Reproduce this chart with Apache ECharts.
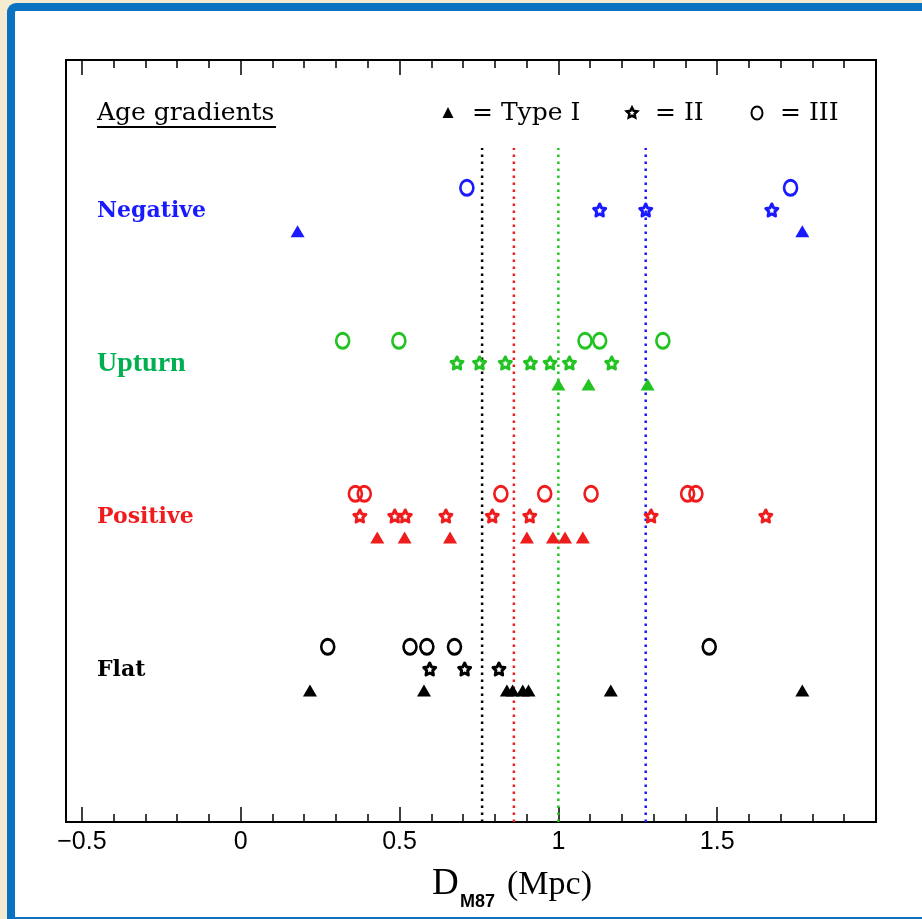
<!DOCTYPE html>
<html>
<head>
<meta charset="utf-8">
<script src="https://cdn.jsdelivr.net/npm/echarts@6/dist/echarts.min.js"></script>
<style>
  html, body { margin: 0; padding: 0; background: #f5ebd0; overflow: hidden; }
  #frame {
    position: absolute; left: 7px; top: 3px; width: 940px; height: 906px;
    background: #fff; border-left: 8px solid #0b72c2; border-top: 8px solid #0b72c2;
    border-bottom: 3px solid #0b72c2; border-top-left-radius: 9px;
  }
  #chart { position: absolute; left: 0; top: 0; width: 922px; height: 919px; }
</style>
</head>
<body>
<div id="frame"></div>
<div id="chart"></div>
<script>
// distance from M87 (Mpc)
// Type I = triangle, Type II = star, Type III = circle
const negTypeI = [0.179, 1.768]
const negTypeII = [1.130, 1.275, 1.672]
const negTypeIII = [0.712, 1.731]

const upTypeI = [1.000, 1.095, 1.281]
const upTypeII = [0.681, 0.752, 0.833, 0.912, 0.974, 1.035, 1.168]
const upTypeIII = [0.321, 0.498, 1.084, 1.130, 1.329]

const posTypeI = [0.430, 0.516, 0.659, 0.901, 0.983, 1.021, 1.077]
const posTypeII = [0.375, 0.485, 0.518, 0.646, 0.792, 0.910, 1.292, 1.653]
const posTypeIII = [0.361, 0.389, 0.819, 0.957, 1.103, 1.407, 1.433]

const flatTypeI = [0.218, 0.577, 0.838, 0.856, 0.888, 0.906, 1.165, 1.768]
const flatTypeII = [0.595, 0.705, 0.813]
const flatTypeIII = [0.274, 0.533, 0.586, 0.673, 1.475]

// dotted reference lines: flat, positive, upturn, negative
const lineValues = [0.76, 0.86, 1.0, 1.275]

const groupNames = ['Flat', 'Positive', 'Upturn', 'Negative']
const groupLevels = [1, 2, 3, 4]
const majorTicks = [-0.5, 0, 0.5, 1, 1.5]

const colors = { Flat: '#000000', Positive: '#ee1c1c', Upturn: '#22c322', Negative: '#1a1aff' }
const labelColors = { Flat: '#000000', Positive: '#ee1c1c', Upturn: '#00b050', Negative: '#1a1aff' }
const lineColors = ['#000000', '#ee1c1c', '#22c322', '#1a1aff']

const minorTicks = []
for (let i = -5; i <= 19; i++) {
    if (i % 5 !== 0) minorTicks.push(i / 10)
}

// 5 point star, outer radius 10, inner 5
const starPts = [[0, -10], [2.94, -4.05], [9.51, -3.09], [4.76, 1.55], [5.88, 8.09], [0, 5], [-5.88, 8.09], [-4.76, 1.55], [-9.51, -3.09], [-2.94, -4.05]]
const starPath = 'path://M' + starPts.map(p => p.join(',')).join(' L') + ' Z'

const groupData = {
    Negative: [negTypeI, negTypeII, negTypeIII],
    Upturn: [upTypeI, upTypeII, upTypeIII],
    Positive: [posTypeI, posTypeII, posTypeIII],
    Flat: [flatTypeI, flatTypeII, flatTypeIII]
}
const typeOffsets = [-0.14, 0, 0.145]

const chart = echarts.init(document.getElementById('chart'))

let series = []
lineValues.forEach((v, i) => {
    series.push({
        type: 'line', xAxisIndex: 0, yAxisIndex: 0, silent: true, symbol: 'none', z: 1,
        data: [[v, 0], [v, 4.405]],
        lineStyle: { color: lineColors[i], width: 2.5, type: [2.5, 4.5] }
    })
})
groupNames.forEach((g, gi) => {
    const c = colors[g]
    const [t1, t2, t3] = groupData[g]
    const lvl = groupLevels[gi]
    series.push({
        name: g + ' I', type: 'scatter', symbol: 'triangle', symbolSize: [14, 12], z: 3,
        data: t1.map(x => [x, lvl + typeOffsets[0]]),
        itemStyle: { color: c, opacity: 1 }
    })
    series.push({
        name: g + ' II', type: 'scatter', symbol: starPath, symbolSize: [12, 12], z: 3,
        data: t2.map(x => [x, lvl + typeOffsets[1]]),
        itemStyle: { color: 'rgba(255,255,255,0)', borderColor: c, borderWidth: 3, borderJoin: 'round', opacity: 1 }
    })
    series.push({
        name: g + ' III', type: 'scatter', symbol: 'circle', symbolSize: [13, 15], z: 3,
        data: t3.map(x => [x, lvl + typeOffsets[2]]),
        itemStyle: { color: 'rgba(255,255,255,0)', borderColor: c, borderWidth: 2.8, opacity: 1 }
    })
})

const gridRect = { left: 66, top: 60, right: 46, bottom: 97 }
const tickAxis = (grid, pos, vals, len, labels) => ({
    type: 'value', gridIndex: grid, position: pos, min: -0.55, max: 2.0,
    axisLine: { show: false }, splitLine: { show: false },
    axisTick: { show: true, inside: true, length: len, customValues: vals, lineStyle: { color: '#000', width: 1.5 } },
    axisLabel: labels ? {
        customValues: vals, fontFamily: 'Liberation Sans', fontSize: 25, color: '#000', margin: 8,
        formatter: v => (v < 0 ? '\u2212' + Math.abs(v) : String(v))
    } : { show: false }
})

const serifFont = 'DejaVu Serif'
let graphics = []
groupNames.forEach((g, gi) => {
    const isUp = g === 'Upturn'
    graphics.push({
        type: 'text', x: 97, y: 822 - groupLevels[gi] * 153 + 1,
        style: {
            text: g, fill: labelColors[g], fontWeight: 'bold', verticalAlign: 'middle',
            fontFamily: isUp ? 'Liberation Serif' : serifFont, fontSize: isUp ? 28 : 22
        }
    })
})
const legendText = (txt, x) => ({
    type: 'text', x: x, y: 113,
    style: { text: txt, fontFamily: serifFont, fontSize: 25, fill: '#000', verticalAlign: 'middle' }
})
graphics.push(
    legendText('Age gradients', 97),
    { type: 'line', shape: { x1: 97, y1: 127, x2: 276, y2: 127 }, style: { stroke: '#000', lineWidth: 2 } },
    { type: 'polygon', shape: { points: [[448, 107], [442.5, 118], [453.5, 118]] }, style: { fill: '#000' } },
    legendText('= Type I', 472),
    {
        type: 'polygon', shape: { points: starPts.map(p => [632 + p[0] * 0.55, 113 + p[1] * 0.55]) },
        style: { fill: 'none', stroke: '#000', lineWidth: 2.5 }
    },
    legendText('= II', 655),
    { type: 'ellipse', shape: { cx: 757, cy: 113, rx: 5.5, ry: 6.5 }, style: { fill: 'none', stroke: '#000', lineWidth: 2 } },
    legendText('= III', 780),
    { type: 'text', x: 432, y: 866, style: { text: 'D', fontFamily: 'Liberation Serif', fontSize: 37, fill: '#000' } },
    { type: 'text', x: 460, y: 893, style: { text: 'M87', fontFamily: 'Liberation Sans', fontWeight: 'bold', fontSize: 18, fill: '#000' } },
    { type: 'text', x: 507, y: 868, style: { text: '(Mpc)', fontFamily: 'Liberation Serif', fontSize: 34, fill: '#000' } }
)

const option = {
    animation: false,
    grid: [
        Object.assign({ show: true, borderColor: '#000', borderWidth: 2, backgroundColor: 'transparent' }, gridRect),
        Object.assign({ show: false }, gridRect)
    ],
    xAxis: [
        tickAxis(0, 'bottom', majorTicks, 15, true),
        tickAxis(0, 'top', majorTicks, 15, false),
        tickAxis(1, 'bottom', minorTicks, 8, false),
        tickAxis(1, 'top', minorTicks, 8, false)
    ],
    yAxis: [
        { type: 'value', gridIndex: 0, min: 0, max: 4.98, show: false },
        { type: 'value', gridIndex: 1, min: 0, max: 4.98, show: false }
    ],
    series: series,
    graphic: graphics
}
chart.setOption(option)
</script>
</body>
</html>
